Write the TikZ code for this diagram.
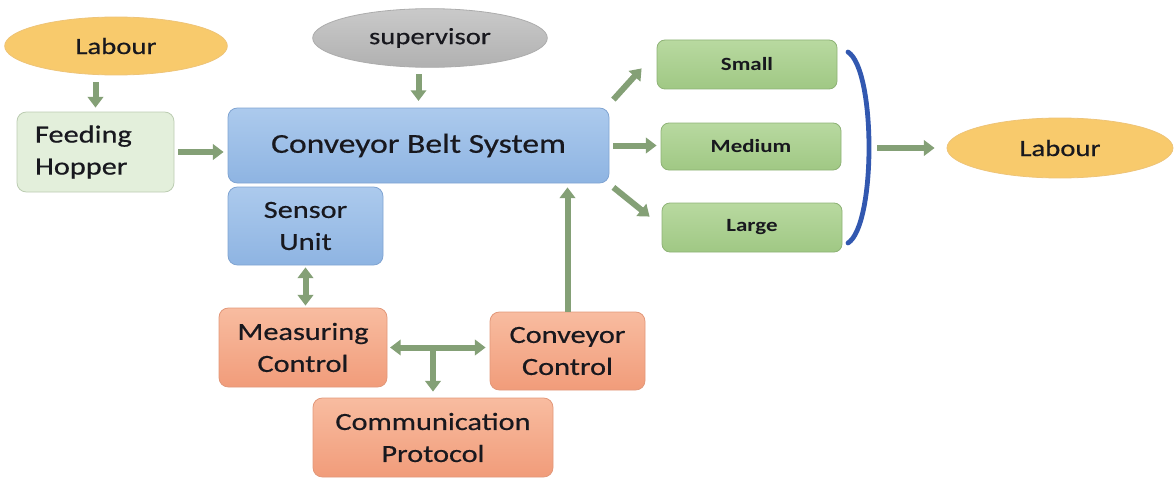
\documentclass[tikz,border=0pt]{standalone}
\usepackage{fontspec}
\setmainfont{Carlito}[FakeStretch=1.23, UprightFeatures={FakeBold=0.5}]
\usetikzlibrary{shapes.geometric}
\usetikzlibrary{arrows.meta}
\usetikzlibrary{calc}
\definecolor{ink}{RGB}{24,24,30}
\definecolor{flow-green}{RGB}{132,160,118}
\definecolor{labour-gold}{RGB}{248,202,108}
\definecolor{labour-edge}{RGB}{238,196,120}
\definecolor{super-grey}{RGB}{192,192,192}
\definecolor{super-edge}{RGB}{172,172,172}
\definecolor{hopper-green}{RGB}{227,239,219}
\definecolor{hopper-edge}{RGB}{188,204,178}
\definecolor{belt-top}{RGB}{172,202,237}
\definecolor{belt-bottom}{RGB}{142,180,226}
\definecolor{belt-edge}{RGB}{128,164,210}
\definecolor{ctrl-top}{RGB}{248,188,160}
\definecolor{ctrl-bottom}{RGB}{241,156,122}
\definecolor{ctrl-edge}{RGB}{226,152,122}
\definecolor{size-top}{RGB}{184,217,160}
\definecolor{size-bottom}{RGB}{160,200,132}
\definecolor{size-edge}{RGB}{142,178,118}
\definecolor{bracket-blue}{RGB}{50,88,176}
\newcommand{\ovalfont}{\fontsize{17.5}{22}\selectfont}
\newcommand{\boxfont}{\fontsize{18.5}{24}\selectfont}
\newcommand{\beltfont}{\fontsize{20.5}{26}\selectfont}
\newcommand{\sizefont}{\fontsize{14}{18}\selectfont\bfseries}
\tikzset{
  oval/.style={ellipse, inner sep=0pt, line width=0.6pt, font=\ovalfont, text=ink},
  box/.style={rectangle, rounded corners=7pt, line width=0.6pt, font=\boxfont, text=ink, align=center},
  leftbox/.style={box, align=left, inner xsep=13.5pt},
  beltbox/.style={box, top color=belt-top, bottom color=belt-bottom, draw=belt-edge},
  ctrlbox/.style={box, top color=ctrl-top, bottom color=ctrl-bottom, draw=ctrl-edge},
  sizebox/.style={box, rounded corners=6pt, top color=size-top, bottom color=size-bottom, draw=size-edge,
    font=\sizefont, minimum width=135pt},
  flow/.style={draw=flow-green, line width=4.5pt, -{Triangle[length=8pt,width=11.5pt]},
    shorten >=3pt, shorten <=3pt},
  twoway/.style={flow, {Triangle[length=8pt,width=11.5pt]}-{Triangle[length=8pt,width=11.5pt]}}
}
\begin{document}
\begin{tikzpicture}[x=0.75pt, y=-0.75pt]
\useasboundingbox (0,0) rectangle (1174,478);

\node[oval, fill=labour-gold, draw=labour-edge, minimum width=167pt, minimum height=43.5pt] (labour-in) at (116,46) {Labour};
\node[oval, top color=super-grey!85!white, bottom color=super-grey!92!black, draw=super-edge,
  minimum width=176pt, minimum height=44pt] (supervisor) at (430,38) {supervisor};
\node[leftbox, fill=hopper-green, draw=hopper-edge, text width=90.75pt,
  minimum width=116.25pt, minimum height=60pt] (hopper) at (95.5,152) {Feeding\\Hopper};
\node[beltbox, font=\beltfont, minimum width=285.75pt, minimum height=56.25pt] (belt) at (418.5,145.5) {Conveyor Belt System};
\node[beltbox, minimum width=116.25pt, minimum height=58.5pt] (sensor) at (305.5,226) {Sensor\\Unit};
\node[leftbox, ctrlbox, text width=99pt, minimum width=126pt, minimum height=59.25pt] (measuring) at (303,347.5) {Measuring\\Control};
\node[leftbox, ctrlbox, text width=89.25pt, minimum width=116.25pt, minimum height=58.5pt] (conv-ctrl) at (567.5,351) {Conveyor\\Control};
\node[ctrlbox, minimum width=180pt, minimum height=59.25pt] (protocol) at (433,437.5) {Communication\\Protocol};

\node[sizebox, minimum height=36.75pt] (small) at (747,64.5) {Small};
\node[sizebox, minimum height=35.25pt] (medium) at (751,146.5) {Medium};
\node[sizebox, minimum height=36.75pt] (large) at (752,227.5) {Large};
\node[oval, fill=labour-gold, draw=labour-edge, minimum width=169.5pt, minimum height=45pt] (labour-out) at (1060,148) {Labour};

\coordinate (bracket-top) at (848,52);
\coordinate (bracket-bottom) at (848,243);
\coordinate (bracket-out) at (877,148);
\draw[bracket-blue, line width=3.6pt, line cap=round]
  (bracket-top) .. controls (876,70) and (876,225) .. (bracket-bottom);

\draw[flow, shorten <=5pt] (labour-in.south -| hopper.north) -- (hopper.north);
\draw[flow] (hopper.east) -- (hopper.east -| belt.west);
\draw[flow, shorten <=5pt, shorten >=5pt] (supervisor.south -| belt.north) -- (belt.north);
\draw[flow, shorten <=0pt, shorten >=0pt] ($(belt.north east)+(4,-8)$) -- ($(small.south west)+(-15,-21)$);
\draw[flow] (belt.east) -- (belt.east -| medium.west);
\draw[flow, shorten <=0pt, shorten >=0pt] ($(belt.south east)+(4,4)$) -- ($(large.north west)+(-12,14)$);
\draw[twoway, shorten <=1.5pt, shorten >=1.5pt] (sensor.south) -- (sensor.south |- measuring.north);
\draw[twoway, shorten <=2pt, shorten >=3pt] (measuring.east) -- (measuring.east -| conv-ctrl.west);
\draw[flow, shorten <=0pt, shorten >=4.5pt] (protocol.north |- measuring.east) -- (protocol.north);
\draw[flow, shorten <=0pt] (conv-ctrl.north) -- (conv-ctrl.north |- belt.south);
\draw[flow, shorten <=0pt, shorten >=9pt] (bracket-out) -- (labour-out.west);
\end{tikzpicture}
\end{document}
